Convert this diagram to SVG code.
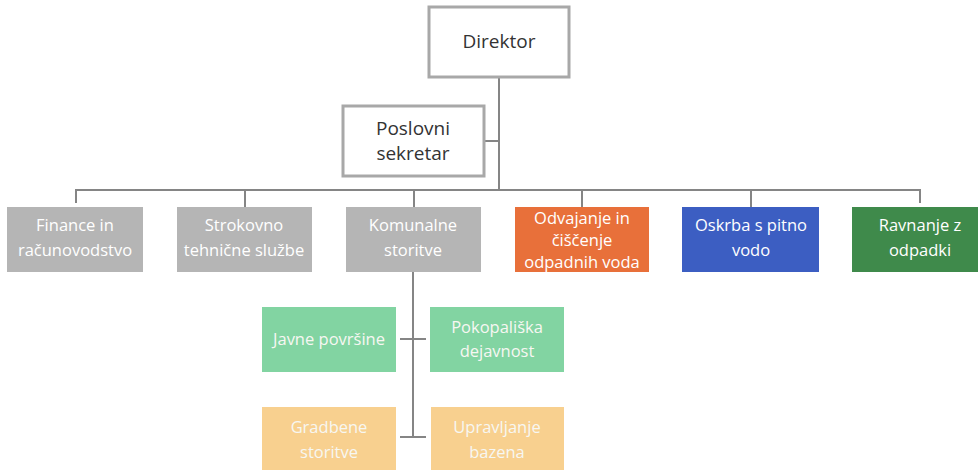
<svg xmlns="http://www.w3.org/2000/svg" width="978" height="470" viewBox="0 0 978 470">
<style>
.top{fill:#ffffff;stroke:#a8a8a8;stroke-width:3}
.gray{fill:#b5b5b5}
.orange{fill:#e8703a}
.blue{fill:#3c5ec2}
.green{fill:#3f8a4b}
.lgreen{fill:#82d4a2}
.lorange{fill:#f8d08f}
text{font-family:"Open Sans","Noto Sans","Liberation Sans",sans-serif;text-anchor:middle}
.tt{font-size:19px;fill:#333333}
.st{font-size:16.5px;fill:#ffffff}
.lt{font-size:16.5px;fill:#f7f7f2}
.conn{stroke:#858585;stroke-width:2;fill:none}
</style>
<g id="connectors">
<line class="conn" x1="499" y1="77" x2="499" y2="190"/>
<line class="conn" x1="484" y1="141" x2="499" y2="141"/>
<polyline class="conn" points="76,203 76,190 920,190 920,203"/>
<line class="conn" x1="245" y1="190" x2="245" y2="207"/>
<line class="conn" x1="414" y1="190" x2="414" y2="207"/>
<line class="conn" x1="582" y1="190" x2="582" y2="207"/>
<line class="conn" x1="751" y1="190" x2="751" y2="207"/>
<line class="conn" x1="413" y1="272" x2="413" y2="437"/>
<line class="conn" x1="400" y1="339" x2="426" y2="339"/>
<line class="conn" x1="400" y1="437" x2="426" y2="437"/>
</g>
<g id="direktor">
<rect class="top" x="429" y="7" width="140" height="70"/>
<text class="tt" x="499" y="48">Direktor</text>
</g>
<g id="poslovni-sekretar">
<rect class="top" x="343" y="106" width="141" height="70"/>
<text class="tt" x="413" y="135">Poslovni</text>
<text class="tt" x="413" y="160">sekretar</text>
</g>
<g id="finance">
<rect class="gray" x="7" y="207" width="136" height="65"/>
<text class="st" x="75" y="231">Finance in</text>
<text class="st" x="75" y="256">računovodstvo</text>
</g>
<g id="strokovno">
<rect class="gray" x="177" y="207" width="135" height="65"/>
<text class="st" x="244" y="231">Strokovno</text>
<text class="st" x="244" y="256">tehnične službe</text>
</g>
<g id="komunalne">
<rect class="gray" x="346" y="207" width="135" height="65"/>
<text class="st" x="413" y="231">Komunalne</text>
<text class="st" x="413" y="256">storitve</text>
</g>
<g id="odvajanje">
<rect class="orange" x="515" y="207" width="134" height="65"/>
<text class="st" x="582" y="224">Odvajanje in</text>
<text class="st" x="582" y="246">čiščenje</text>
<text class="st" x="582" y="268">odpadnih voda</text>
</g>
<g id="oskrba">
<rect class="blue" x="682" y="207" width="137" height="65"/>
<text class="st" x="751" y="231">Oskrba s pitno</text>
<text class="st" x="751" y="256">vodo</text>
</g>
<g id="ravnanje">
<rect class="green" x="852" y="207" width="136" height="65"/>
<text class="st" x="920" y="231">Ravnanje z</text>
<text class="st" x="920" y="256">odpadki</text>
</g>
<g id="javne-povrsine">
<rect class="lgreen" x="262" y="307" width="134" height="65"/>
<text class="lt" x="329" y="345">Javne površine</text>
</g>
<g id="pokopaliska">
<rect class="lgreen" x="430" y="307" width="134" height="65"/>
<text class="lt" x="497" y="333">Pokopališka</text>
<text class="lt" x="497" y="357">dejavnost</text>
</g>
<g id="gradbene">
<rect class="lorange" x="262" y="407" width="134" height="70"/>
<text class="lt" x="329" y="433">Gradbene</text>
<text class="lt" x="329" y="458">storitve</text>
</g>
<g id="upravljanje">
<rect class="lorange" x="431" y="407" width="133" height="70"/>
<text class="lt" x="497" y="433">Upravljanje</text>
<text class="lt" x="497" y="458">bazena</text>
</g>
</svg>
